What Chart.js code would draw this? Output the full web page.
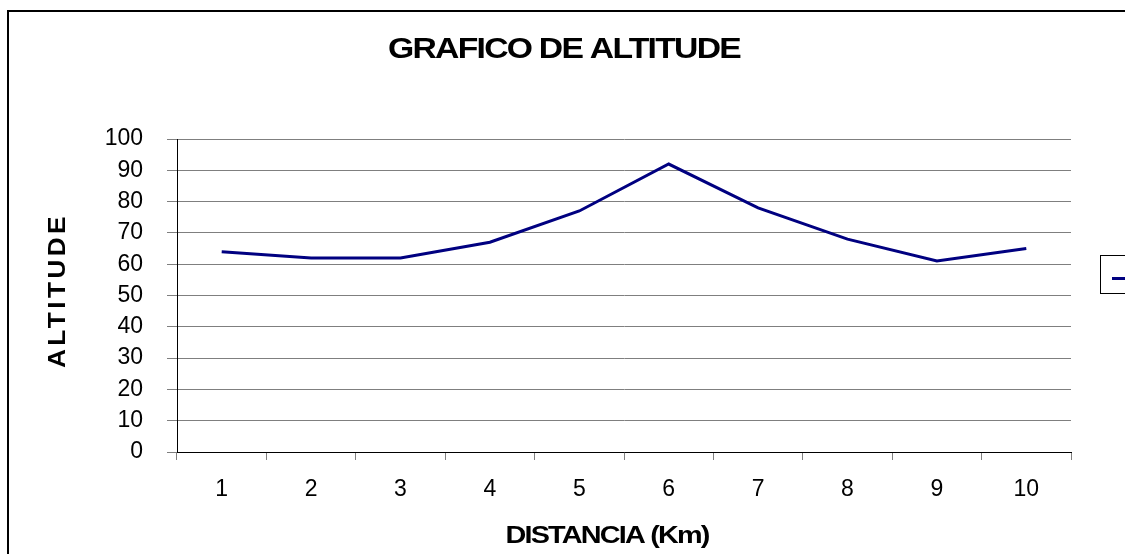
<!DOCTYPE html>
<html>
<head>
<meta charset="utf-8">
<title>Grafico de altitude</title>
<script src="https://cdn.jsdelivr.net/npm/chart.js@4"></script>
<style>
  html, body { margin: 0; padding: 0; background: #fff; overflow: hidden; }
  canvas { display: block; }
</style>
</head>
<body>
<canvas id="altChart" width="1125" height="554"></canvas>
<script>
// distancia em km e altitude em cada ponto
var distancias = ['1', '2', '3', '4', '5', '6', '7', '8', '9', '10'];
var altitudes = [64, 62, 62, 67, 77, 92, 78, 68, 61, 65];
var tituloGrafico = 'GRAFICO DE ALTITUDE';
var tituloX = 'DISTANCIA (Km)';
var tituloY = 'ALTITUDE';

var FONTE = "'Liberation Sans', Arial, sans-serif";

// escreve o texto centrado em (x, y), esticado ate a largura pedida
function textoAjustado(ctx, txt, x, y, fonte, espaco, largura) {
  ctx.save();
  ctx.font = fonte;
  ctx.letterSpacing = espaco;
  var w = ctx.measureText(txt).width;
  ctx.translate(x, y);
  ctx.scale(largura / w, 1);
  ctx.textAlign = 'center';
  ctx.textBaseline = 'alphabetic';
  ctx.fillText(txt, 0, 0);
  ctx.restore();
}

// moldura, titulos e caixa da legenda
var decoracao = {
  id: 'decoracao',
  beforeDraw: function(chart) {
    var ctx = chart.ctx;
    ctx.save();
    ctx.fillStyle = '#fff';
    ctx.fillRect(0, 0, chart.width, chart.height);
    ctx.strokeStyle = '#000';
    ctx.lineWidth = 2;
    ctx.beginPath();
    ctx.moveTo(8, chart.height + 5);
    ctx.lineTo(8, 11);
    ctx.lineTo(chart.width + 5, 11);
    ctx.stroke();
    ctx.restore();
  },
  afterDraw: function(chart) {
    var ctx = chart.ctx;
    ctx.save();
    ctx.fillStyle = '#000';
    textoAjustado(ctx, tituloGrafico, 564, 57.5, 'bold 29px ' + FONTE, '-1.5px', 352);
    textoAjustado(ctx, tituloX, 607, 543, 'bold 24px ' + FONTE, '-1.5px', 203);

    ctx.translate(65, 290.5);
    ctx.rotate(-Math.PI / 2);
    textoAjustado(ctx, tituloY, 0, 0, 'bold 23px ' + FONTE, '3px', 155);
    ctx.restore();

    // legenda (cortada na borda direita)
    ctx.save();
    ctx.strokeStyle = '#000';
    ctx.lineWidth = 1;
    ctx.strokeRect(1100.5, 255.5, 40, 38);
    ctx.strokeStyle = '#000080';
    ctx.lineWidth = 3;
    ctx.beginPath();
    ctx.moveTo(1112, 278.5);
    ctx.lineTo(1140, 278.5);
    ctx.stroke();
    ctx.restore();
  }
};

new Chart(document.getElementById('altChart'), {
  type: 'line',
  data: {
    labels: distancias,
    datasets: [{
      label: tituloY,
      data: altitudes,
      borderColor: '#000080',
      borderWidth: 3,
      pointRadius: 0,
      tension: 0,
      fill: false
    }]
  },
  options: {
    responsive: false,
    animation: false,
    layout: { padding: { left: 100, top: 139, right: 54, bottom: 0 } },
    plugins: {
      legend: { display: false },
      title: { display: false },
      tooltip: { enabled: false }
    },
    scales: {
      x: {
        offset: true,
        afterFit: function(s) { s.height = 102; },
        grid: { display: true, drawOnChartArea: false, offset: true, tickLength: 8, color: '#808080', lineWidth: 1 },
        border: { color: '#000', width: 1 },
        ticks: { color: '#000', font: { family: FONTE, size: 23 }, padding: 16, maxRotation: 0 }
      },
      y: {
        min: 0,
        max: 100,
        afterFit: function(s) { s.width = 77; },
        grid: { color: '#7f7f7f', lineWidth: 1, tickLength: 10 },
        border: { color: '#000', width: 1 },
        ticks: { stepSize: 10, color: '#000', font: { family: FONTE, size: 23 }, padding: 24 }
      }
    }
  },
  plugins: [decoracao]
});
</script>
</body>
</html>
